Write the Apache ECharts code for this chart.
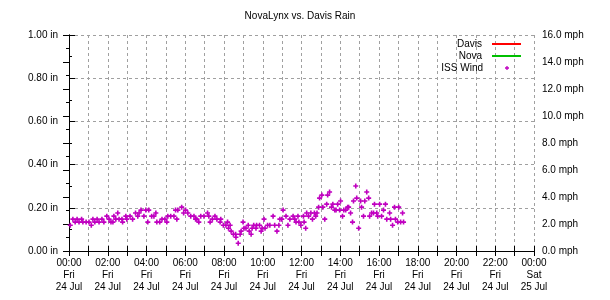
<!DOCTYPE html>
<html>
<head>
<meta charset="utf-8">
<script src="https://cdn.jsdelivr.net/npm/echarts@6/dist/echarts.min.js"></script>
<style>
  html, body { margin: 0; padding: 0; background: #fff; }
  #chart { width: 610px; height: 300px; }
</style>
</head>
<body>
<div id="chart"></div>
<script>
var titleText = "NovaLynx vs. Davis Rain";

// x ticks every 2 hours, values in minutes from 00:00 Fri
var xTickTimes = ["00:00", "02:00", "04:00", "06:00", "08:00", "10:00", "12:00",
  "14:00", "16:00", "18:00", "20:00", "22:00", "00:00"];
var xTickDays = ["Fri", "Fri", "Fri", "Fri", "Fri", "Fri", "Fri",
  "Fri", "Fri", "Fri", "Fri", "Fri", "Sat"];
var xTickDates = ["24 Jul", "24 Jul", "24 Jul", "24 Jul", "24 Jul", "24 Jul", "24 Jul",
  "24 Jul", "24 Jul", "24 Jul", "24 Jul", "24 Jul", "25 Jul"];

// rain series (nothing visible in the plot)
var davisRain = [];
var novaRain = [];

// ISS wind, minutes after midnight / mph
var windMinutes = [4, 12, 19, 25, 31, 39, 43, 53, 62, 69, 74, 80, 87, 93, 102, 108, 117, 124, 130, 136,
  139, 145, 151, 155, 164, 166, 176, 179, 189, 197, 206, 213, 217, 223, 232, 238, 244, 247, 256, 263,
  269, 272, 281, 288, 297, 303, 306, 315, 325, 330, 334, 337, 349, 355, 361, 368, 377, 387, 392, 396,
  402, 408, 418, 429, 433, 437, 444, 452, 458, 468, 470, 478, 486, 491, 494, 499, 502, 509, 516, 517,
  524, 530, 533, 539, 542, 548, 555, 558, 564, 567, 572, 579, 581, 590, 595, 598, 604, 607, 615, 622,
  632, 637, 644, 650, 653, 659, 663, 672, 678, 684, 694, 699, 703, 709, 712, 718, 726, 728, 733, 736,
  742, 749, 754, 760, 764, 768, 773, 776, 783, 786, 792, 798, 801, 807, 813, 817, 823, 827, 832, 838,
  841, 847, 851, 857, 863, 866, 872, 878, 881, 888, 891, 897, 903, 906, 912, 916, 922, 928, 931, 937,
  943, 946, 953, 956, 962, 968, 974, 980, 984, 993, 996, 1002, 1008, 1011, 1018, 1021, 1027, 1033, 1036];
var windMph = [1.91, 2.36, 2.14, 2.36, 2.14, 2.36, 2.14, 2.14, 2.14, 1.91, 2.36, 2.14, 2.36, 2.14, 2.36, 2.14, 2.58, 2.36, 2.14, 2.14,
  2.58, 2.36, 2.81, 2.36, 2.36, 2.14, 2.58, 2.36, 2.58, 2.36, 2.81, 2.58, 2.81, 3.03, 2.58, 3.03, 2.14, 3.03, 2.58, 2.58,
  2.81, 2.14, 2.14, 2.36, 2.36, 2.14, 2.58, 2.58, 2.58, 3.03, 2.36, 3.03, 3.25, 2.81, 3.03, 2.81, 2.58, 2.58, 2.36, 2.36,
  2.14, 2.58, 2.58, 2.81, 2.58, 2.14, 2.36, 2.58, 2.36, 2.14, 2.36, 1.91, 1.91, 2.14, 1.69, 1.91, 1.47, 1.24, 1.24, 1.02,
  0.57, 1.24, 1.47, 2.14, 1.69, 1.69, 1.91, 1.47, 1.24, 1.69, 1.91, 1.69, 1.91, 1.91, 1.47, 1.69, 2.36, 1.69, 1.91, 1.91,
  2.58, 1.91, 1.47, 1.91, 2.36, 2.36, 3.03, 2.58, 1.91, 2.36, 2.58, 2.36, 2.14, 2.58, 2.14, 1.91, 2.58, 2.14, 1.69, 2.81,
  2.58, 2.81, 2.36, 2.81, 2.58, 2.81, 3.25, 3.92, 4.14, 3.25, 2.36, 3.47, 4.14, 4.37, 3.25, 3.47, 3.03, 3.03, 3.47, 3.03,
  3.70, 2.58, 3.03, 3.03, 3.25, 3.25, 2.81, 2.14, 3.70, 4.81, 3.92, 1.69, 3.70, 3.25, 2.58, 3.70, 4.37, 3.92, 2.58, 2.81,
  2.81, 3.47, 2.81, 2.58, 3.47, 2.58, 3.03, 3.47, 2.36, 2.81, 2.36, 1.91, 3.25, 2.36, 2.14, 3.25, 2.14, 2.81, 2.14];

var FONT = "Liberation Sans";
var GRID_COLOR = "#a0a0a0";
var PLUS = "path://M1.7,0H3.3V1.7H5V3.3H3.3V5H1.7V3.3H0V1.7H1.7Z";

var windData = windMinutes.map(function (m, i) {
  return [m, windMph[i]];
});

var chart = echarts.init(document.getElementById("chart"), null, { renderer: "canvas" });

var dashed = { show: true, lineStyle: { color: GRID_COLOR, type: [3, 3], width: 1 } };

var option = {
  animation: false,
  backgroundColor: "#fff",
  textStyle: { fontFamily: FONT, color: "#000" },
  title: {
    text: titleText,
    left: 300,
    textAlign: "center",
    top: 11,
    padding: 0,
    textStyle: { fontFamily: FONT, fontSize: 10, fontWeight: "normal", color: "#000" }
  },
  legend: [
    {
      data: [{ name: "Davis", icon: "rect" }, { name: "Nova", icon: "rect" }],
      orient: "vertical",
      align: "right",
      right: 89,
      top: 38,
      padding: 0,
      itemGap: 0,
      itemWidth: 29,
      itemHeight: 2,
      selectedMode: false,
      textStyle: { fontFamily: FONT, fontSize: 10, color: "#000", lineHeight: 12, padding: [0, 5, 0, 0] }
    },
    {
      data: [{ name: "ISS Wind", icon: PLUS }],
      orient: "vertical",
      align: "right",
      right: 101,
      top: 62,
      padding: 0,
      itemWidth: 4,
      itemHeight: 4,
      selectedMode: false,
      textStyle: { fontFamily: FONT, fontSize: 10, color: "#000", lineHeight: 12, padding: [0, 17, 0, 0] }
    }
  ],
  grid: { left: 69, right: 76, top: 35, bottom: 49 },
  xAxis: [
    {
      type: "value",
      position: "bottom",
      min: 0,
      max: 1440,
      interval: 120,
      axisLine: { lineStyle: { color: "#000", width: 1 } },
      axisTick: { inside: true, length: 5, lineStyle: { color: "#000" } },
      minorTick: { show: true, splitNumber: 2, length: 5, lineStyle: { color: "#000" } },
      splitLine: dashed,
      minorSplitLine: dashed,
      axisLabel: {
        margin: 6,
        fontFamily: FONT,
        fontSize: 10,
        lineHeight: 12,
        color: "#000",
        formatter: function (v) {
          var i = Math.round(v / 120);
          return xTickTimes[i] + "\n" + xTickDays[i] + "\n" + xTickDates[i];
        }
      }
    },
    {
      type: "value",
      position: "top",
      min: 0,
      max: 1440,
      interval: 120,
      axisLine: { lineStyle: { color: "#000", width: 1 } },
      axisTick: { inside: true, length: 5, lineStyle: { color: "#000" } },
      minorTick: { show: true, splitNumber: 2, length: 5, lineStyle: { color: "#000" } },
      splitLine: { show: false },
      axisLabel: { show: false }
    }
  ],
  yAxis: [
    {
      type: "value",
      position: "left",
      min: 0,
      max: 1,
      interval: 0.2,
      axisLine: { show: true, lineStyle: { color: "#000", width: 1 } },
      axisTick: { show: true, inside: true, length: 6, lineStyle: { color: "#000" } },
      minorTick: { show: true, splitNumber: 2, length: 3, lineStyle: { color: "#000" } },
      splitLine: dashed,
      axisLabel: {
        margin: 11,
        fontFamily: FONT,
        fontSize: 10,
        color: "#000",
        formatter: function (v) { return v.toFixed(2) + " in"; }
      }
    },
    {
      type: "value",
      position: "right",
      min: 0,
      max: 16,
      interval: 2,
      axisLine: { show: true, lineStyle: { color: "#000", width: 1 } },
      axisTick: { show: true, inside: true, length: 6, lineStyle: { color: "#000" } },
      minorTick: { show: true, splitNumber: 2, length: 3, lineStyle: { color: "#000" } },
      splitLine: { show: false },
      axisLabel: {
        margin: 8,
        fontFamily: FONT,
        fontSize: 10,
        color: "#000",
        formatter: function (v) { return v.toFixed(1) + " mph"; }
      }
    }
  ],
  series: [
    {
      name: "Davis",
      type: "line",
      xAxisIndex: 0,
      yAxisIndex: 0,
      data: davisRain,
      symbol: "none",
      color: "#ff0000",
      lineStyle: { width: 1.5 }
    },
    {
      name: "Nova",
      type: "line",
      xAxisIndex: 0,
      yAxisIndex: 0,
      data: novaRain,
      symbol: "none",
      color: "#00c000",
      lineStyle: { width: 1.5 }
    },
    {
      name: "ISS Wind",
      type: "scatter",
      xAxisIndex: 0,
      yAxisIndex: 1,
      data: windData,
      symbol: PLUS,
      symbolSize: 5,
      color: "#c000c0",
      itemStyle: { opacity: 1 }
    }
  ]
};

chart.setOption(option);
</script>
</body>
</html>
